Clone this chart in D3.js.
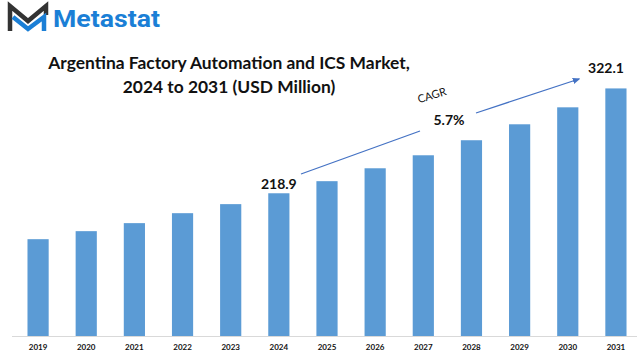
<!DOCTYPE html>
<html><head><meta charset="utf-8">
<script src="https://cdn.jsdelivr.net/npm/d3@7"></script>
<style>body{margin:0;background:#fff}svg{display:block}</style>
</head><body>
<script>
const years = ["2019","2020","2021","2022","2023","2024","2025","2026","2027","2028","2029","2030","2031"];
const values = [173.7,181.6,189.5,199.3,208.2,218.9,230.8,243.5,256.3,271.1,286.8,303.5,322.1];
const labelled = {"2024":"218.9","2031":"322.1"};
const title = ["Argentina Factory Automation and ICS Market,","2024 to 2031 (USD Million)"];
const cagrText = "CAGR", cagrValue = "5.7%";

const W=637,H=355;
const svg=d3.select("body").append("svg").attr("width",W).attr("height",H);
const font="Lato, 'Open Sans', sans-serif";

const x=d3.scaleBand().domain(years).range([14,640]).paddingInner(0.56).paddingOuter(0.28);
const y=d3.scaleLinear().domain([78.4,330]).range([336,80.4]);

// logo
const g=svg.append("g");
g.append("path").attr("d","M10,31 L10,6 L28,21 L46,6 L46,15").attr("fill","none").attr("stroke","#333").attr("stroke-width",4.5).attr("stroke-linejoin","miter");
g.append("path").attr("d","M13,17 L28,29 L44,17 L44,31").attr("fill","none").attr("stroke","#1b7fd6").attr("stroke-width",4.5);
g.append("text").attr("x",53).attr("y",27).attr("font-family","Roboto, 'Open Sans', sans-serif").attr("font-weight",700).attr("font-size",23.5)
 .attr("textLength",107).attr("lengthAdjust","spacingAndGlyphs").attr("fill","#1b7fd6").text("Metastat");

// title
svg.append("text").attr("x",229).attr("text-anchor","middle").attr("font-family",font).attr("font-weight",700).attr("font-size",17.4).attr("fill","#111")
 .selectAll("tspan").data(title).join("tspan").attr("x",229).attr("y",(d,i)=>69+i*24).text(d=>d);

// axis
svg.append("line").attr("x1",12).attr("x2",637).attr("y1",336.5).attr("y2",336.5).attr("stroke","#d9d9d9").attr("stroke-width",1);

// bars
svg.selectAll("rect.bar").data(years).join("rect").attr("class","bar")
 .attr("x",d=>x(d)).attr("width",x.bandwidth())
 .attr("y",(d,i)=>y(values[i])).attr("height",(d,i)=>336-y(values[i]))
 .attr("fill","#5b9bd5");

// x labels
svg.selectAll("text.xl").data(years).join("text").attr("class","xl")
 .attr("x",d=>x(d)+x.bandwidth()/2).attr("y",350).attr("text-anchor","middle")
 .attr("font-family",font).attr("font-weight",700).attr("font-size",8).attr("fill","#111").text(d=>d);

// value labels
Object.entries(labelled).forEach(([k,v])=>{
  const i=years.indexOf(k);
  svg.append("text").attr("x",x(k)+x.bandwidth()/2-(k==="2031"?10:0)).attr("y",y(values[i])-(k==="2031"?15:4))
   .attr("text-anchor","middle").attr("font-family",font).attr("font-weight",700).attr("font-size",14).attr("fill","#111").text(v);
});

// CAGR arrow
svg.append("defs").append("marker").attr("id","ah").attr("viewBox","0 0 10 10").attr("refX",8).attr("refY",5)
 .attr("markerWidth",6).attr("markerHeight",6).attr("orient","auto")
 .append("path").attr("d","M0,1 L10,5 L0,9 z").attr("fill","#4472c4");
svg.append("line").attr("x1",301).attr("y1",174).attr("x2",420).attr("y2",131).attr("stroke","#4472c4").attr("stroke-width",1.3);
svg.append("line").attr("x1",476).attr("y1",113).attr("x2",579).attr("y2",79).attr("stroke","#4472c4").attr("stroke-width",1.3).attr("marker-end","url(#ah)");
svg.append("text").attr("transform","translate(433,99) rotate(-17)").attr("text-anchor","middle")
 .attr("font-family",font).attr("font-size",11).attr("fill","#111").text(cagrText);
svg.append("text").attr("x",449).attr("y",125).attr("text-anchor","middle")
 .attr("font-family",font).attr("font-weight",700).attr("font-size",14).attr("fill","#111").text(cagrValue);
</script>
</body></html>
